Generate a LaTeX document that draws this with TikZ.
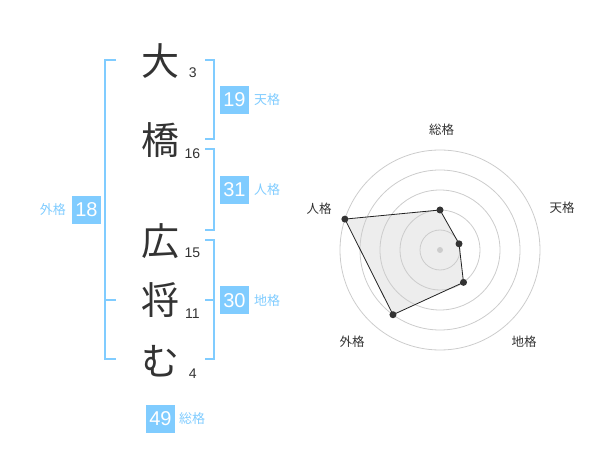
\documentclass[tikz,border=0pt]{standalone}
\usepackage{fontspec}
\usetikzlibrary{calc}
\setmainfont{Liberation Sans}
\newfontfamily\jp{Noto Sans CJK JP}
\definecolor{sky}{HTML}{80CCFF}
\definecolor{ink}{HTML}{333333}
\definecolor{edge}{HTML}{222222}
\begin{document}
\begin{tikzpicture}[x=1pt,y=-1pt,
  kanji/.style={font=\jp\fontsize{38}{38}\selectfont, text=ink, inner sep=0},
  strokes/.style={font=\fontsize{14}{14}\selectfont, text=ink, inner sep=0},
  gbox/.style={fill=sky, text=white, minimum width=29pt, minimum height=28pt, inner sep=0, font=\fontsize{20}{20}\selectfont},
  glabel/.style={text=sky, font=\jp\fontsize{13}{13}\selectfont, inner sep=0},
  bracket/.style={draw=sky, line width=2pt},
  ring/.style={draw=black!20, line width=0.8pt},
  axlabel/.style={text=ink, font=\jp\fontsize{12.5}{12.5}\selectfont, inner sep=0},
  vdot/.style={circle, fill=ink, inner sep=0, minimum size=7pt},
  cdot/.style={circle, fill=black!20, inner sep=0, minimum size=6pt},
  polyfill/.style={fill=black!7},
  polyedge/.style={draw=edge, line width=0.8pt}]
\useasboundingbox (0,0) rectangle (600,470);

% name characters
\node[kanji] (c1) at (160,61) {大};
\node[kanji] (c2) at (160,140) {橋};
\node[kanji] (c3) at (160,241) {広};
\node[kanji] (c4) at (160,300) {将};
\node[kanji] (c5) at (160,361) {む};

% stroke counts
\node[strokes] (n1) at (192.7,72.7) {3};
\node[strokes] (n2) at (192.3,153.3) {16};
\node[strokes] (n3) at (192.3,252.7) {15};
\node[strokes] (n4) at (192.3,313.3) {11};
\node[strokes] (n5) at (192.7,373.3) {4};

% brackets
\draw[bracket] (116,60) -- (105,60) -- (105,359.5) -- (116,359.5);
\draw[bracket] (105,300) -- (116,300);
\draw[bracket] (205,60) -- (214,60) -- (214,139.5) -- (205,139.5);
\draw[bracket] (205,149.5) -- (214,149.5) -- (214,230) -- (205,230);
\draw[bracket] (205,240) -- (214,240) -- (214,359.5) -- (205,359.5);
\draw[bracket] (205,300) -- (214,300);

% grade boxes
\node[gbox] (b19) at (234.5,100) {19};
\node[glabel, anchor=west] (l19) at (254,100) {天格};
\node[gbox] (b31) at (234.5,190) {31};
\node[glabel, anchor=west] (l31) at (254,190) {人格};
\node[gbox] (b30) at (234.5,300.5) {30};
\node[glabel, anchor=west] (l30) at (254,300.5) {地格};
\node[gbox] (b18) at (86.5,210) {18};
\node[glabel, anchor=east] (l18) at (66,210) {外格};
\node[gbox] (b49) at (160.5,419) {49};
\node[glabel, anchor=west] (l49) at (179,419) {総格};

% radar chart
\coordinate (O) at (440,250);
\coordinate (p1) at ($(O)+(-90:40)$);
\coordinate (p2) at ($(O)+(-18:20)$);
\coordinate (p3) at ($(O)+(54:40)$);
\coordinate (p4) at ($(O)+(126:80)$);
\coordinate (p5) at ($(O)+(198:100)$);
\path[polyfill] (p1) -- (p2) -- (p3) -- (p4) -- (p5) -- cycle;
\foreach \r in {20,40,60,80,100} \draw[ring] (O) circle[radius=\r pt];
\node[cdot] (ctr) at (O) {};
\path[polyedge] (p1) -- (p2) -- (p3) -- (p4) -- (p5) -- cycle;
\foreach \i in {1,...,5} \node[vdot] (v\i) at (p\i) {};

\node[axlabel] (a1) at (441.7,130) {総格};
\node[axlabel] (a2) at (562,208) {天格};
\node[axlabel] (a3) at (524,342) {地格};
\node[axlabel] (a4) at (352,342) {外格};
\node[axlabel] (a5) at (319,209) {人格};
\end{tikzpicture}
\end{document}
